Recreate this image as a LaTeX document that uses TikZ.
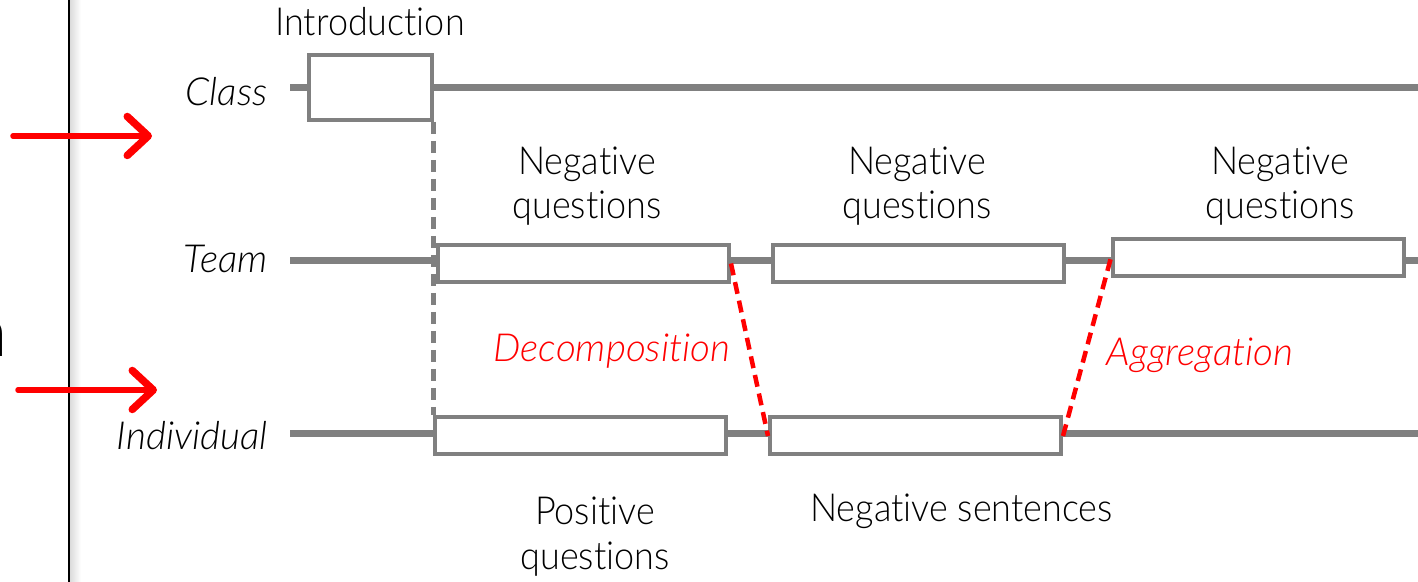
\documentclass[tikz,border=0pt]{standalone}
\usepackage{fontspec}
\setmainfont{Lato}[Ligatures=NoCommon, UprightFont={* Light}, ItalicFont={* Light Italic},
	UprightFeatures={FakeStretch=0.93}, ItalicFeatures={FakeStretch=1.0}]
\usetikzlibrary{arrows.meta,positioning}
\definecolor{linjegraa}{HTML}{808080}
\definecolor{rod}{HTML}{FF0000}
\newcommand{\tekststr}{\fontsize{22}{25.5}\selectfont}
\tikzset{
	%Define style for phase boxes
	boks/.style={
		rectangle,
		draw=linjegraa, line width=0.08cm,
		fill=white,
		minimum width=5.82cm,
		minimum height=0.74cm,
		inner sep=0pt},
	% Define style for the level tracks
	spor/.style={
		draw=linjegraa,
		line width=0.14cm},
	% Define style for level names
	niva/.style={
		font=\tekststr\itshape,
		anchor=east,
		inner sep=0pt},
	% Define style for the red arrows
	pilrod/.style={
		-{Straight Barb[length=0.42cm,width=0.78cm,line width=0.15cm,round]},
		draw=rod,
		line width=0.11cm,
		line cap=round},
	% Define style for dashed transitions
	brudd/.style={
		line width=0.09cm,
		dash pattern=on 0.24cm off 0.14cm},
	% Define style for red remarks
	merk/.style={
		font=\tekststr\itshape,
		text=rod}
}

\begin{document}
\begin{tikzpicture}[node distance=1cm, font=\tekststr]
	\useasboundingbox (0,0) rectangle (28.36,11.64);

	% margin line with its shadow
	\fill[left color=black!14, right color=white] (1.40,0) rectangle (1.62,11.64);
	\coordinate (marg-top) at (1.38,11.64);
	\coordinate (marg-bot) at (1.38,0);
	\draw[line width=0.05cm] (marg-top) -- (marg-bot);
	\node[anchor=base east, inner sep=0pt, font=\fontsize{40}{40}\selectfont] (sidetekst) at (0.16,4.50) {n};

	% red arrows
	\coordinate (pil1-fra) at (0.26,8.92);
	\coordinate (pil1-til) at (3.04,8.92);
	\coordinate (pil2-fra) at (0.36,3.84);
	\coordinate (pil2-til) at (3.14,3.84);
	\draw[pilrod] (pil1-fra) -- (pil1-til);
	\draw[pilrod] (pil2-fra) -- (pil2-til);

	% levels
	\node[niva] (class) at (5.36,9.80) {Class};
	\node[niva] (team) at (5.36,6.46) {Team};
	\node[niva] (individual) at (5.36,2.92) {Individual};

	\coordinate (class-start) at (5.80,9.88);
	\coordinate (class-end) at (28.36,9.88);
	\coordinate (team-start) at (5.80,6.42);
	\coordinate (team-end) at (28.36,6.42);
	\coordinate (indiv-start) at (5.80,2.96);
	\coordinate (indiv-end) at (28.36,2.96);
	\draw[spor] (class-start) -- (class-end);
	\draw[spor] (team-start) -- (team-end);
	\draw[spor] (indiv-start) -- (indiv-end);

	% phases
	\node[boks, minimum width=2.46cm, minimum height=1.30cm] (intro) at (7.40,9.89) {};
	\node[above = 0.22cm of intro] (intro-tekst) {Introduction};

	\node[boks] (team1) at (11.67,6.37) {};
	\node[boks, right = 0.8cm of team1] (team2) {};
	\node[boks, right = 0.9cm of team2, yshift=0.12cm] (team3) {};

	\node[boks] (indiv1) at (11.61,2.92) {};
	\node[boks, right = 0.8cm of indiv1] (indiv2) {};

	\node[align=center, above = 0.22cm of team1, xshift=0.07cm] (negq1) {Negative\\questions};
	\node[align=center, above = 0.22cm of team2, xshift=-0.03cm] (negq2) {Negative\\questions};
	\node[align=center, above = 0.10cm of team3, xshift=0.43cm] (negq3) {Negative\\questions};
	\node[align=center, below = 0.68cm of indiv1, xshift=0.29cm] (posq) {Positive\\questions};
	\node[below = 0.62cm of indiv2, xshift=0.92cm] (negs) {Negative sentences};

	% transitions between levels
	\draw[brudd, draw=linjegraa] (intro.south east) -- (intro.south east |- indiv1.north);
	\draw[brudd, draw=rod] (team1.east) -- (indiv2.west);
	\draw[brudd, draw=rod] (indiv2.east) -- (team3.west);

	\node[merk] (decomp) at (12.24,4.62) {Decomposition};
	\node[merk] (aggr) at (24.00,4.54) {Aggregation};
\end{tikzpicture}
\end{document}
